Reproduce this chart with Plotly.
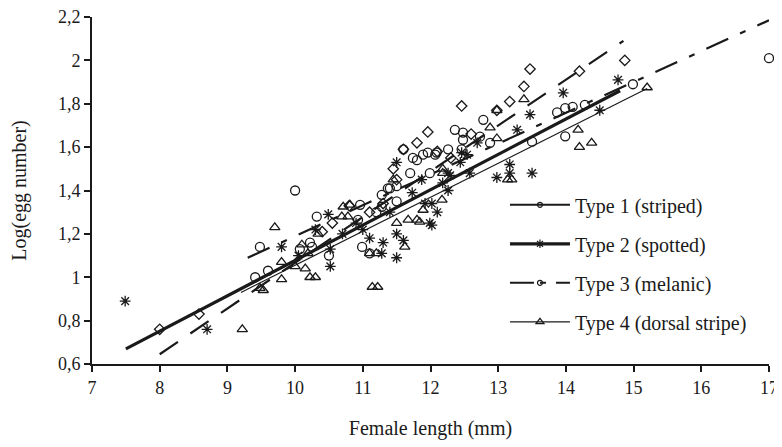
import plotly.graph_objects as go

# ---------------- data ----------------
x_ticks = [7, 8, 9, 10, 11, 12, 13, 14, 15, 16, 17]
x_tick_labels = ["7", "8", "9", "10", "11", "12", "13", "14", "15", "16", "17"]
y_ticks = [0.6, 0.8, 1.0, 1.2, 1.4, 1.6, 1.8, 2.0, 2.2]
y_tick_labels = ["0,6", "0,8", "1", "1,2", "1,4", "1,6", "1,8", "2", "2,2"]

legend_names = ["Type 1 (striped)", "Type 2 (spotted)", "Type 3 (melanic)", "Type 4 (dorsal stripe)"]

# Type 1 (striped) - diamonds
t1_x = [8.0, 8.58, 10.4, 10.8, 11.1, 11.3, 11.5, 11.6, 11.8, 11.96, 12.1, 12.46, 12.98, 13.17,
        13.38, 13.47, 14.2, 14.87, 12.6, 11.45, 10.55, 12.3]
t1_y = [0.76, 0.83, 1.21, 1.33, 1.30, 1.34, 1.45, 1.59, 1.62, 1.67, 1.58, 1.79, 1.77, 1.81,
        1.88, 1.96, 1.95, 2.00, 1.66, 1.50, 1.25, 1.55]

# Type 2 (spotted) - asterisks
t2_x = [7.49, 8.7, 9.8, 10.05, 10.3, 10.49, 10.52, 10.52, 10.7, 11.0, 11.1, 11.28, 11.3, 11.5,
        11.5, 11.5, 11.6, 11.73, 11.87, 11.92, 11.99, 12.02, 12.02, 12.18, 12.26, 12.29, 12.26,
        12.44, 12.46, 12.54, 12.58, 12.69, 12.98, 13.17, 13.17, 13.28, 13.47, 13.5, 13.96, 14.5,
        14.77, 11.4, 10.9, 12.1]
t2_y = [0.89, 0.76, 1.14, 1.10, 1.22, 1.29, 1.05, 1.13, 1.20, 1.22, 1.18, 1.11, 1.16, 1.09,
        1.20, 1.53, 1.17, 1.39, 1.45, 1.34, 1.25, 1.34, 1.24, 1.435, 1.40, 1.47, 1.48,
        1.53, 1.575, 1.565, 1.48, 1.62, 1.46, 1.52, 1.48, 1.68, 1.75, 1.48, 1.85, 1.77,
        1.91, 1.30, 1.25, 1.30]

# Type 3 (melanic) - circles
t3_x = [9.41, 9.48, 9.6, 10.0, 10.07, 10.22, 10.25, 10.32, 10.5, 10.93, 10.96, 10.99, 11.1, 11.2,
        11.28, 11.28, 11.37, 11.4, 11.5, 11.5, 11.6, 11.7, 11.74, 11.8, 11.89, 11.96, 11.99, 12.07,
        12.09, 12.26, 12.36, 12.46, 12.48, 12.48, 12.73, 12.78, 12.88, 13.5, 13.87, 13.99, 13.99,
        14.1, 14.28, 14.99, 17.0]
t3_y = [1.00, 1.14, 1.03, 1.40, 1.13, 1.16, 1.14, 1.28, 1.10, 1.265, 1.334, 1.14, 1.11, 1.30,
        1.325, 1.38, 1.41, 1.41, 1.42, 1.35, 1.59, 1.48, 1.55, 1.54, 1.565, 1.575, 1.48, 1.565,
        1.575, 1.59, 1.68, 1.59, 1.634, 1.667, 1.648, 1.726, 1.62, 1.625, 1.76, 1.78, 1.65,
        1.786, 1.795, 1.89, 2.01]

# Type 4 (dorsal stripe) - triangles
t4_x = [9.22, 9.48, 9.53, 9.7, 9.8, 9.8, 10.1, 10.19, 10.15, 10.22, 10.3, 10.34, 10.69, 10.71,
        10.78, 10.81, 11.1, 11.2, 11.14, 11.22, 11.5, 11.62, 11.67, 11.8, 11.84, 11.89, 12.17,
        12.18, 12.18, 12.88, 12.98, 12.98, 13.14, 13.2, 13.38, 14.18, 14.2, 14.38, 15.2, 10.0, 11.45]
t4_y = [0.76, 0.95, 0.94, 1.23, 1.07, 0.99, 1.15, 1.11, 1.04, 1.00, 1.00, 1.20, 1.28, 1.325,
        1.28, 1.334, 1.11, 1.11, 0.955, 0.955, 1.25, 1.14, 1.265, 1.265, 1.255, 1.31, 1.357,
        1.48, 1.50, 1.69, 1.64, 1.77, 1.45, 1.45, 1.82, 1.68, 1.60, 1.62, 1.875, 1.05, 1.45]

# regression lines (end points, data units)
fit1_x = [8.0, 14.85]
fit1_y = [0.645, 2.09]
fit2_x = [7.5, 14.8]
fit2_y = [0.67, 1.86]
fit3_x = [9.3, 17.0]
fit3_y = [1.09, 2.185]
fit4_x = [9.2, 15.2]
fit4_y = [0.93, 1.87]

# ---------------- figure ----------------
INK = "#1a1a1a"
FONT = "Liberation Serif"

fig = go.Figure()

marker_specs = [
    (t1_x, t1_y, "diamond-open", 8),
    (t2_x, t2_y, "asterisk-open", 9),
    (t3_x, t3_y, "circle-open", 9),
    (t4_x, t4_y, "triangle-up-open", 9),
]
for xs, ys, sym, sz in marker_specs:
    fig.add_trace(go.Scatter(
        x=xs, y=ys, mode="markers", showlegend=False, cliponaxis=False,
        marker=dict(symbol=sym, size=sz, color=INK, line=dict(width=1.3, color=INK)),
    ))

line_specs = [
    (fit1_x, fit1_y, 2.2, "22px,15px"),
    (fit2_x, fit2_y, 3.2, "solid"),
    (fit3_x, fit3_y, 2.2, "24px,13px,6px,13px"),
    (fit4_x, fit4_y, 1.2, "solid"),
]
for xs, ys, w, d in line_specs:
    fig.add_trace(go.Scatter(
        x=xs, y=ys, mode="lines", showlegend=False, cliponaxis=False,
        line=dict(color=INK, width=w, dash=d),
    ))

legend_specs = [
    ("circle-open", 5, 2.0, "solid"),
    ("asterisk-open", 7, 3.2, "solid"),
    ("circle-open", 5, 2.0, "24px,6px,6px,10px"),
    ("triangle-up-open", 7, 1.2, "solid"),
]
for i, (sym, sz, w, d) in enumerate(legend_specs):
    fig.add_trace(go.Scatter(
        x=[None], y=[None], mode="lines+markers", name=legend_names[i],
        legendgroup="g%d" % i,
        line=dict(color=INK, width=w, dash=d),
        marker=dict(symbol=sym, size=sz, color=INK, line=dict(width=1.2, color=INK)),
    ))

# the page body adds an 8px offset, so the figure is 8px smaller than the window
fig.update_layout(
    width=774, height=439,
    margin=dict(l=84, r=13, t=9, b=83),
    paper_bgcolor="white", plot_bgcolor="white",
    font=dict(family=FONT, color=INK, size=18),
    showlegend=True,
    legend=dict(
        x=0.61, y=0.515, xanchor="left", yanchor="top",
        font=dict(family=FONT, size=20, color=INK),
        bgcolor="rgba(0,0,0,0)", itemwidth=60, tracegroupgap=10,
        itemclick=False,
    ),
    xaxis=dict(
        range=[7, 17], tickvals=x_ticks, ticktext=x_tick_labels,
        showline=True, linecolor=INK, linewidth=2, mirror=False,
        ticks="outside", ticklen=6, tickwidth=2, tickcolor=INK,
        showgrid=False, zeroline=False, automargin=False, ticklabeloverflow="allow",
        tickfont=dict(family=FONT, size=18, color=INK),
        title=dict(text="Female length (mm)", font=dict(family=FONT, size=20, color=INK), standoff=24),
    ),
    yaxis=dict(
        range=[0.6, 2.2], tickvals=y_ticks, ticktext=y_tick_labels,
        showline=True, linecolor=INK, linewidth=2, mirror=False,
        ticks="outside", ticklen=6, tickwidth=2, tickcolor=INK,
        showgrid=False, zeroline=False, automargin=False, ticklabeloverflow="allow",
        tickfont=dict(family=FONT, size=18, color=INK),
        title=dict(text="Log(egg number)", font=dict(family=FONT, size=20, color=INK), standoff=32),
    ),
)

fig.write_html("out.html")
